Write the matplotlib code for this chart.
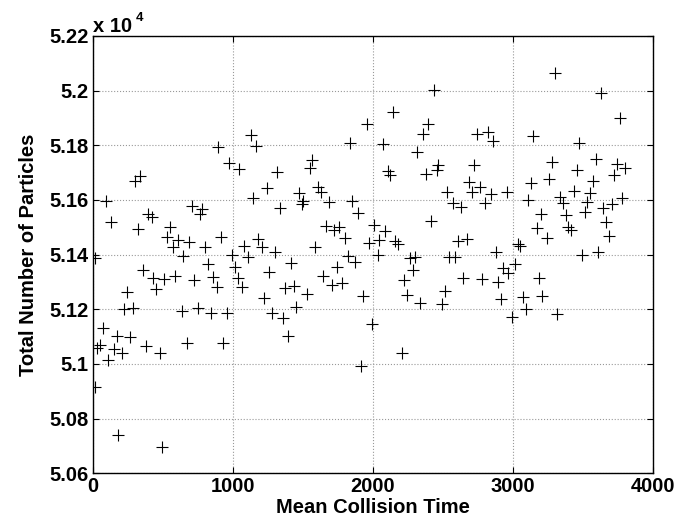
import matplotlib.pyplot as plt

plt.rcParams['font.family'] = ['Liberation Sans', 'DejaVu Sans']
plt.rcParams['font.weight'] = 'bold'

# Scatter data
collision_time = [
    15, 18, 29, 52, 76, 93, 111, 131, 154, 171, 183, 211, 226, 243, 266, 286,
    302, 321, 338, 361, 381, 397, 421, 433, 452, 481, 497, 509, 531, 554, 576,
    588, 611, 636, 647, 671, 688, 707, 726, 750, 766, 779, 802, 821, 845, 861,
    886, 897, 916, 933, 957, 974, 993, 1016, 1040, 1047, 1069, 1083, 1107,
    1129, 1147, 1166, 1183, 1207, 1226, 1243, 1261, 1283, 1302, 1319, 1338,
    1361, 1374, 1397, 1416, 1440, 1452, 1474, 1493, 1504, 1529, 1552, 1569,
    1588, 1607, 1631, 1647, 1664, 1690, 1707, 1724, 1743, 1761, 1783, 1802,
    1821, 1838, 1854, 1877, 1897, 1916, 1933, 1957, 1976, 1993, 2011, 2036,
    2047, 2071, 2091, 2107, 2124, 2143, 2157, 2183, 2207, 2226, 2243, 2266,
    2288, 2302, 2319, 2338, 2361, 2379, 2397, 2416, 2438, 2457, 2469, 2497,
    2516, 2533, 2545, 2571, 2588, 2607, 2631, 2647, 2671, 2688, 2707, 2726,
    2743, 2766, 2779, 2802, 2821, 2845, 2861, 2879, 2897, 2917, 2933, 2957,
    2969, 2993, 3014, 3036, 3052, 3071, 3095, 3111, 3129, 3147, 3171, 3188,
    3202, 3211, 3247, 3262, 3283, 3302, 3319, 3338, 3361, 3379, 3397, 3416,
    3438, 3457, 3476, 3497, 3516, 3533, 3552, 3571, 3593, 3611, 3631, 3647,
    3666, 3688, 3707, 3726, 3743, 3766, 3783, 3802,
]
n_particles = [
    51389, 50917, 51057, 51069, 51133, 51596, 51015, 51518, 51054, 51102,
    50740, 51041, 51200, 51264, 51100, 51206, 51671, 51493, 51689, 51344,
    51067, 51549, 51537, 51314, 51273, 51039, 50695, 51311, 51466, 51502,
    51427, 51322, 51454, 51194, 51396, 51076, 51445, 51578, 51307, 51206,
    51549, 51567, 51427, 51366, 51188, 51319, 51283, 51793, 51466, 51078,
    51185, 51734, 51399, 51354, 51314, 51713, 51281, 51432, 51393, 51838,
    51606, 51798, 51456, 51429, 51243, 51643, 51337, 51188, 51411, 51704,
    51572, 51167, 51277, 51102, 51368, 51285, 51207, 51625, 51585, 51597,
    51255, 51716, 51746, 51429, 51646, 51628, 51323, 51506, 51594, 51289,
    51490, 51356, 51502, 51295, 51462, 51396, 51807, 51597, 51374, 51554,
    50993, 51250, 51877, 51442, 51145, 51509, 51399, 51454, 51804, 51487,
    51706, 51692, 51923, 51450, 51439, 51041, 51307, 51252, 51387, 51344,
    51390, 51775, 51222, 51840, 51695, 51877, 51524, 52003, 51710, 51728,
    51218, 51267, 51630, 51393, 51590, 51393, 51450, 51575, 51314, 51456,
    51667, 51630, 51728, 51841, 51649, 51310, 51590, 51848, 51621, 51816,
    51411, 51301, 51238, 51350, 51628, 51332, 51173, 51365, 51438, 51432,
    51246, 51200, 51600, 51661, 51834, 51496, 51313, 51548, 51249, 51462,
    51676, 51740, 52064, 51182, 51612, 51588, 51545, 51502, 51490, 51634,
    51710, 51807, 51399, 51557, 51594, 51627, 51671, 51749, 51411, 51993,
    51570, 51518, 51468, 51585, 51692, 51731, 51901, 51608, 51718,
]

x_ticks = [0, 1000, 2000, 3000, 4000]
y_ticks = [5.06, 5.08, 5.10, 5.12, 5.14, 5.16, 5.18, 5.20, 5.22]
y_tick_labels = ['5.06', '5.08', '5.1', '5.12', '5.14', '5.16', '5.18', '5.2', '5.22']

fig = plt.figure(figsize=(6.94, 5.26), dpi=100)
ax = fig.add_axes([0.1336, 0.1002, 0.8069, 0.8314])

# plot in units of 10^4 like the original
y_scaled = [v / 1e4 for v in n_particles]
ax.plot(collision_time, y_scaled, '+', color='black', markersize=8.6,
        markeredgewidth=0.8)

ax.set_xlim(0, 4000)
ax.set_ylim(5.06, 5.22)
ax.set_xticks(x_ticks)
ax.set_yticks(y_ticks)
ax.set_yticklabels(y_tick_labels)

ax.grid(True, linestyle=':', color='#999999', linewidth=0.8)
ax.tick_params(direction='in', top=True, right=True, length=4, width=0.8,
               labelsize=14.5, pad=3)
for s in ax.spines.values():
    s.set_linewidth(1.0)

ax.set_xlabel('Mean Collision Time', fontsize=14.5, fontweight='bold', labelpad=1)
ax.set_ylabel('Total Number of Particles', fontsize=14.5, fontweight='bold', labelpad=8)

# MATLAB style exponent label
fig.text(93 / 694, 1 - 32 / 526, 'x 10', fontsize=14.5, fontweight='bold',
         ha='left', va='baseline')
fig.text(136 / 694, 1 - 21 / 526, '4', fontsize=9.5, fontweight='bold',
         ha='left', va='baseline')

fig.savefig('out.png', dpi=100, facecolor='white')
